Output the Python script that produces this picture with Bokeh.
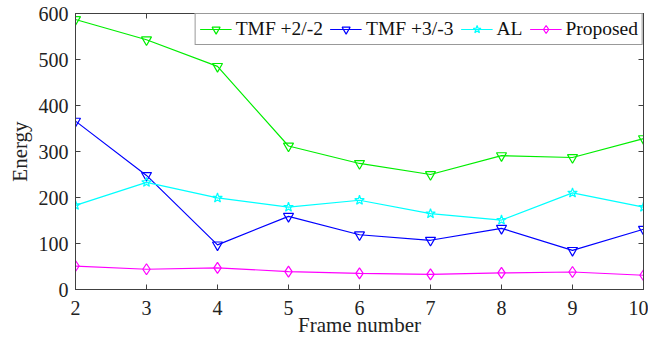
from bokeh.plotting import figure
from bokeh.models import LinearAxis, Legend, LegendItem, FixedTicker, Range1d, CustomJSTickFormatter
from bokeh.embed import file_html
from bokeh.resources import INLINE

frames = [2, 3, 4, 5, 6, 7, 8, 9, 10]
tmf2 = [587, 543, 485, 312, 274, 250, 291, 287, 328]
tmf3 = [366, 248, 97, 159, 119, 107, 133, 85, 131]
al = [183, 233, 199, 179, 194, 165, 151, 210, 179]
proposed = [51, 44, 47, 39, 35, 33, 36, 38, 31]
x_ticks = [2, 3, 4, 5, 6, 7, 8, 9, 10]
y_ticks = [0, 100, 200, 300, 400, 500, 600]

FONT = "Liberation Serif"

p = figure(width=648, height=340, output_backend="svg", toolbar_location=None,
           x_range=Range1d(2, 10), y_range=Range1d(0, 600),
           min_border_left=75, min_border_right=5, min_border_top=13, min_border_bottom=51)
p.grid.visible = False
p.outline_line_color = "#404040"
p.background_fill_color = "white"
p.border_fill_color = "white"

for ax in (p.xaxis[0], p.yaxis[0]):
    ax.major_tick_in = 5
    ax.major_tick_out = 0
    ax.minor_tick_in = 0
    ax.minor_tick_out = 0
    ax.axis_line_color = "#404040"
    ax.major_tick_line_color = "#404040"
    ax.major_label_text_font = FONT
    ax.major_label_text_font_size = "20px"
    ax.major_label_text_color = "#222222"
    ax.axis_label_text_font = FONT
    ax.axis_label_text_font_size = "21px"
    ax.axis_label_text_font_style = "normal"
    ax.axis_label_text_color = "#222222"

p.xaxis[0].ticker = FixedTicker(ticks=x_ticks)
p.yaxis[0].ticker = FixedTicker(ticks=y_ticks)
p.xaxis[0].axis_label = "Frame number"
p.yaxis[0].axis_label = "Energy"
p.xaxis[0].major_label_standoff = 11
p.xaxis[0].axis_label_standoff = -5
p.yaxis[0].major_label_standoff = 7
p.yaxis[0].axis_label_standoff = 4

blank = CustomJSTickFormatter(code="return ''")
top = LinearAxis(ticker=FixedTicker(ticks=x_ticks), formatter=blank, major_label_standoff=0,
                 major_label_text_font_size="4px",
                 major_tick_in=5, major_tick_out=0, minor_tick_in=0, minor_tick_out=0,
                 axis_line_color="#404040", major_tick_line_color="#404040")
right = LinearAxis(ticker=FixedTicker(ticks=y_ticks), formatter=blank, major_label_standoff=0,
                   major_label_text_font_size="4px",
                   major_tick_in=5, major_tick_out=0, minor_tick_in=0, minor_tick_out=0,
                   axis_line_color="#404040", major_tick_line_color="#404040")
p.add_layout(top, "above")
p.add_layout(right, "right")

series = [
    ("TMF +2/-2", tmf2, "#00ee00", "inverted_triangle", 10),
    ("TMF +3/-3", tmf3, "#0000ff", "inverted_triangle", 10),
    ("AL", al, "#00ffff", "star", 10),
    ("Proposed", proposed, "#ff00ff", "diamond", 11),
]
items = []
for name, vals, col, mk, sz in series:
    l = p.line(frames, vals, line_color=col, line_width=1.2)
    s = p.scatter(frames, vals, marker=mk, size=sz, line_color=col, fill_color=None, line_width=1.2)
    items.append(LegendItem(label=name, renderers=[l, s]))

legend = Legend(items=items, orientation="horizontal", location="top_right",
                label_text_font=FONT, label_text_font_size="19.5px", label_text_color="#111111",
                glyph_width=32, glyph_height=20, label_standoff=4, spacing=7,
                padding=4, margin=0, border_line_color="#333333", border_line_width=1,
                background_fill_alpha=1.0)
p.add_layout(legend)

open("out.html", "w").write(file_html(p, INLINE))
